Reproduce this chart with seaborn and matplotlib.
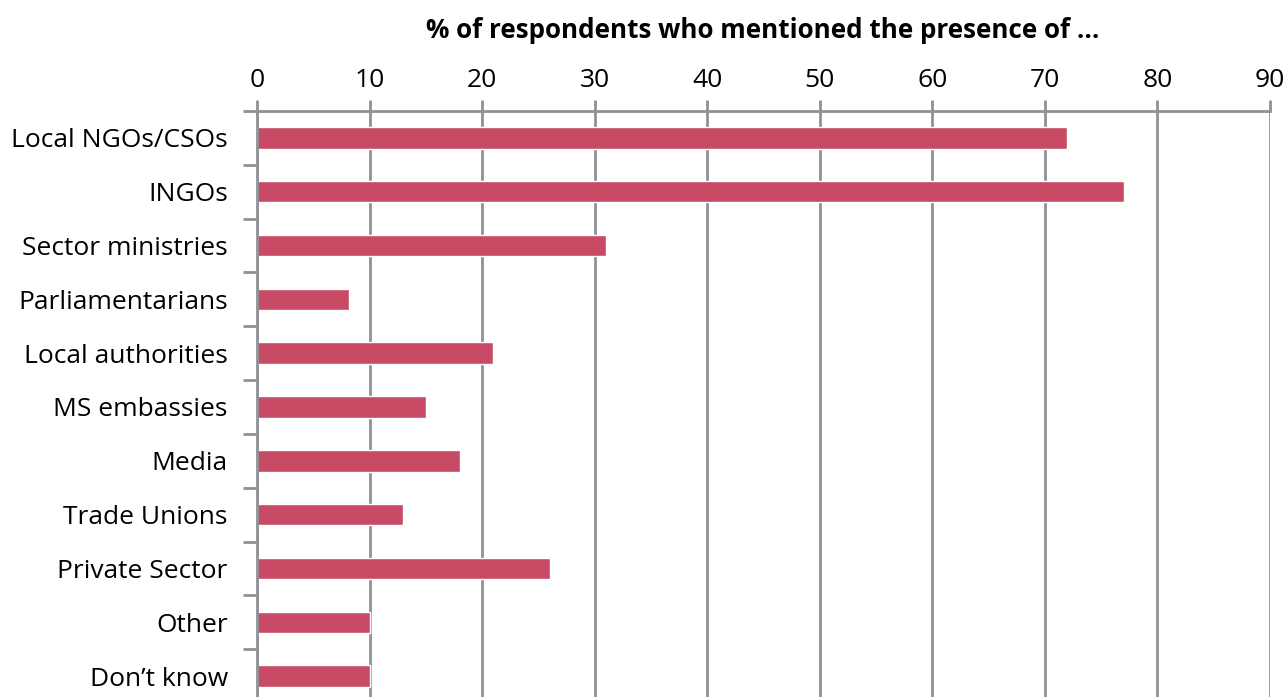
import seaborn as sns
import pandas as pd
import numpy as np
import matplotlib.pyplot as plt

categories = ['Local NGOs/CSOs', 'INGOs', 'Sector ministries', 'Parliamentarians',
              'Local authorities', 'MS embassies', 'Media', 'Trade Unions',
              'Private Sector', 'Other', 'Don\u2019t know']
values = [72, 77, 31, 8.2, 21, 15, 18, 13, 26, 10, 10]
x_ticks = [0, 10, 20, 30, 40, 50, 60, 70, 80, 90]

df = pd.DataFrame({'category': categories, 'pct': values})

sns.set_style('white')
plt.rcParams['font.family'] = ['Open Sans', 'DejaVu Sans']

grey = '#8e9196'
fig = plt.figure(figsize=(12.87, 6.97), dpi=100)
ax = fig.add_axes([257 / 1287, -6 / 697, (1270 - 257) / 1287, (703 - 111) / 697])

sns.barplot(data=df, x='pct', y='category', color='#c94a64', width=0.4,
            saturation=1, ax=ax, orient='h')

ax.set_xlim(0, 90)
ax.set_ylim(len(categories) - 0.5, -0.5)
ax.xaxis.tick_top()
ax.set_xticks(x_ticks)
ax.set_xlabel('')
ax.set_ylabel('')
ax.grid(axis='x', color=grey, linewidth=2)
ax.set_axisbelow(True)

for side in ['right', 'bottom']:
    ax.spines[side].set_visible(False)
for side in ['top', 'left']:
    ax.spines[side].set_color(grey)
    ax.spines[side].set_linewidth(2)

ax.tick_params(axis='x', which='major', top=True, length=8, width=2, color=grey,
               labelsize=19, labelcolor='black', pad=5)
ax.tick_params(axis='y', which='major', length=0, labelsize=19, labelcolor='black', pad=21)
ax.set_yticks(np.arange(-0.5, len(categories), 1), minor=True)
ax.tick_params(axis='y', which='minor', left=True, length=10, width=2, color=grey)

fig.text(763 / 1287, 1 - 30 / 697, '% of respondents who mentioned the presence of ...',
         ha='center', va='center', fontsize=18.7, fontweight='bold', color='black')

fig.savefig('out.png', dpi=100)
